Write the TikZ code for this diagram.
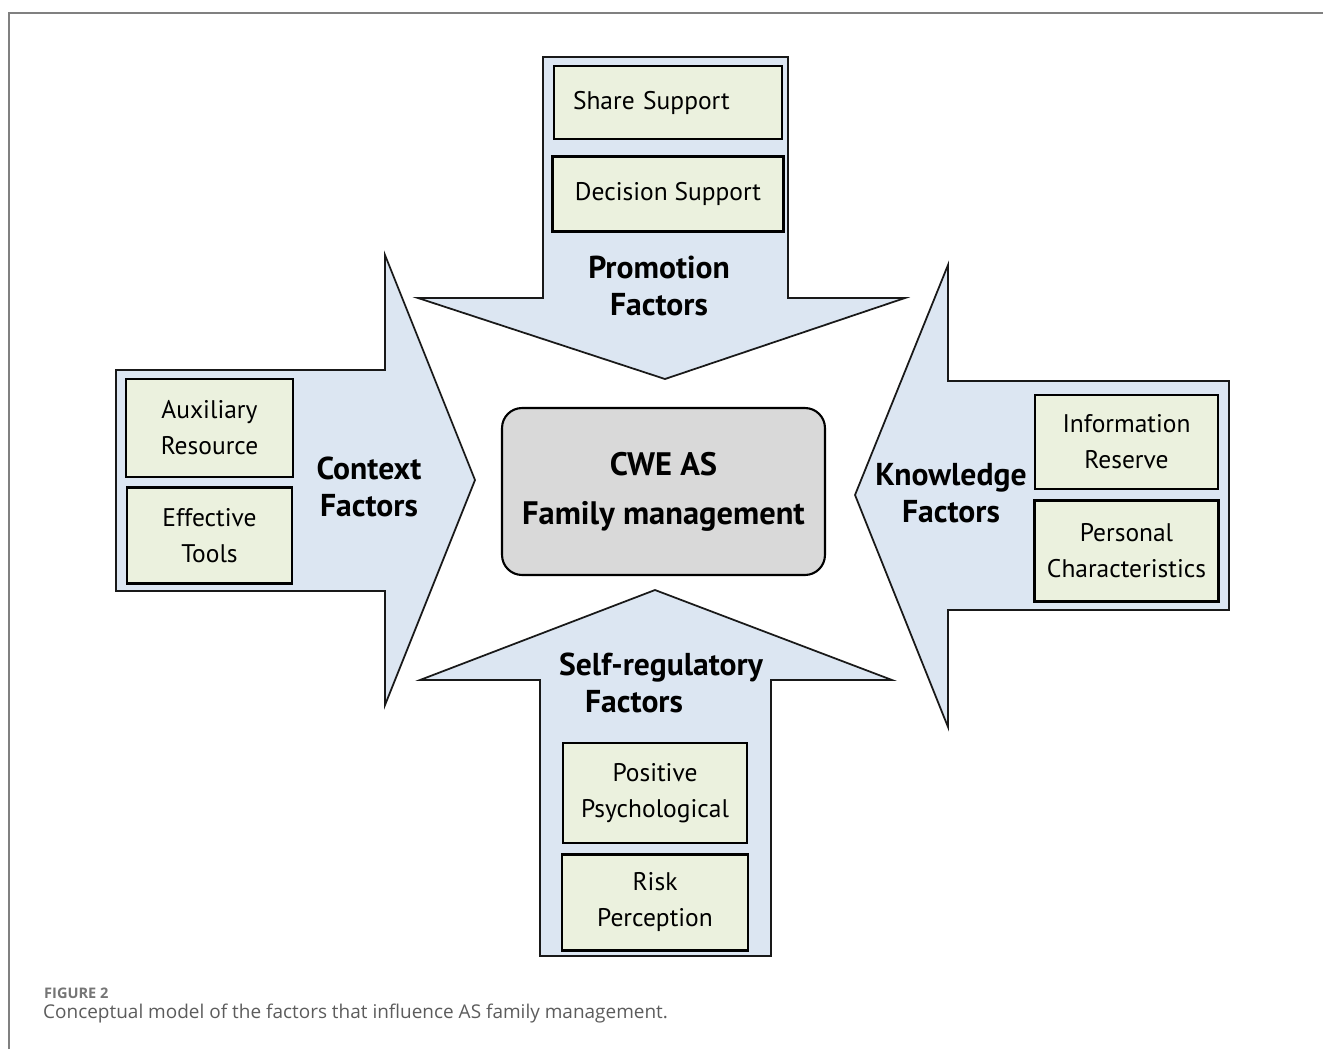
\documentclass[tikz,border=0pt]{standalone}
\usepackage{fontspec}
\setmainfont{PT Sans}
\newfontfamily\captionfont{Open Sans}
\usetikzlibrary{positioning}
\definecolor{arrowblue}{HTML}{DCE6F2}
\definecolor{itemgreen}{HTML}{EBF1DE}
\definecolor{coregray}{HTML}{D9D9D9}
\definecolor{framegray}{HTML}{808080}
\definecolor{captiongray}{HTML}{5C5C5C}
\tikzset{
	x=0.02cm, y=-0.02cm, % Una unidad por pixel, eje y hacia abajo
	blockarrow/.style={draw=black!90, line width=1pt, fill=arrowblue, line join=miter}, % Flechas gruesas
	item/.style={draw=black, line width=1.4pt, fill=itemgreen, align=center, inner sep=0pt,
		font=\fontsize{14.5}{20.5}\selectfont}, % Cajas interiores
	factor/.style={align=center, font=\bfseries\fontsize{18}{21}\selectfont}, % Nombre de cada factor
	core/.style={draw=black, line width=1.2pt, fill=coregray, rounded corners=0.4cm, align=center,
		minimum width=6.46cm, minimum height=3.34cm, font=\bfseries\fontsize{18.5}{28}\selectfont} % Caja central
}

\begin{document}
\begin{tikzpicture}
	\useasboundingbox (0,0) rectangle (1323,1049);
	\draw[framegray, line width=1.1pt] (9,1049) -- (9,13) -- (1323,13);

	% flechas
	\draw[blockarrow] (543,57) -- (788,57) -- (788,298) -- (905,298) -- (665,379) -- (418,298) -- (543,298) -- cycle;
	\draw[blockarrow] (116,370) -- (385,370) -- (385,255) -- (475,480) -- (385,705) -- (385,591) -- (116,591) -- cycle;
	\draw[blockarrow] (1229,381) -- (948,381) -- (948,265) -- (855,495) -- (948,727) -- (948,610) -- (1229,610) -- cycle;
	\draw[blockarrow] (540,956) -- (540,680) -- (420,680) -- (655,590) -- (892,680) -- (771,680) -- (771,956) -- cycle;

	\node[core] (as) at (663.5,491.5) {CWE AS\\Family management};

	\node[item, text width=3.8cm, inner xsep=0.38cm, align=left, minimum height=1.46cm] (share) at (668,102.5) {Share Support};
	\node[item, minimum width=4.62cm, minimum height=1.5cm, below=0.3cm of share] (decision) {Decision Support};
	\node[factor] (promotion) at (659,286) {Promotion\\Factors};

	\node[item, minimum width=3.34cm, minimum height=1.96cm] (auxiliary) at (209.5,428) {Auxiliary\\Resource};
	\node[item, minimum width=3.3cm, minimum height=1.92cm, below=0.16cm of auxiliary] (tools) {Effective\\Tools};
	\node[factor] (context) at (369,487) {Context\\Factors};

	\node[item, minimum width=3.66cm, minimum height=1.88cm] (information) at (1126.5,442) {Information\\Reserve};
	\node[item, minimum width=3.68cm, minimum height=2.02cm, below=0.18cm of information] (personal) {Personal\\Characteristics};
	\node[factor] (knowledge) at (951,493) {Knowledge\\Factors};

	\node[factor, align=left] (selfreg) at (661,683) {Self-regulatory\\\hspace*{0.52cm}Factors};
	\node[item, minimum width=3.68cm, minimum height=2cm] (positive) at (655,793) {Positive\\Psychological};
	\node[item, minimum width=3.72cm, minimum height=1.92cm, below=0.18cm of positive] (risk) {Risk\\Perception};

	\node[anchor=west, text=captiongray!85, font=\captionfont\bfseries\fontsize{8.3}{10}\selectfont] (figlabel) at (38,993) {FIGURE 2};
	\node[anchor=west, text=captiongray, font=\captionfont\fontsize{10.8}{13}\selectfont] (caption) at (37,1014)
		{Conceptual model of the factors that influence AS family management.};
\end{tikzpicture}
\end{document}
